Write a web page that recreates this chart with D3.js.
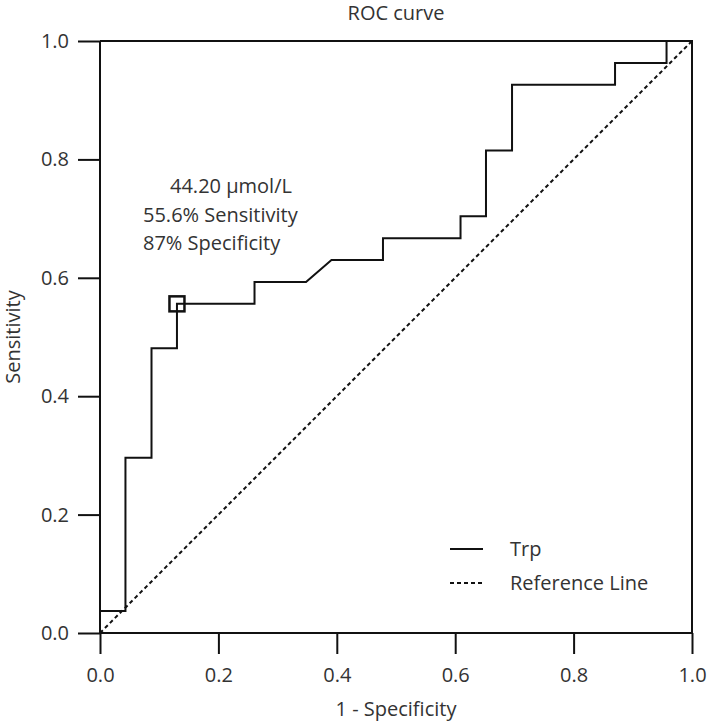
<!DOCTYPE html>
<html>
<head>
<meta charset="utf-8">
<script src="https://cdn.jsdelivr.net/npm/d3@7"></script>
<style>
  html, body { margin: 0; padding: 0; background: #fff; }
  svg text { font-family: "Open Sans", "Noto Sans", sans-serif; fill: #333; }
</style>
</head>
<body>
<svg id="chart" width="709" height="721"></svg>
<script>
// ---- data ----
const title = "ROC curve";
const xLabel = "1 - Specificity";
const yLabel = "Sensitivity";
const tickValues = [0.0, 0.2, 0.4, 0.6, 0.8, 1.0];
// Trp ROC curve points (1 - specificity, sensitivity)
const trpFPR = [0, 0, 0.043, 0.043, 0.087, 0.087, 0.130, 0.130, 0.261, 0.261, 0.348, 0.391, 0.478, 0.478, 0.609, 0.609, 0.652, 0.652, 0.696, 0.696, 0.870, 0.870, 0.957, 0.957, 1.0];
const trpTPR = [0, 0.037, 0.037, 0.296, 0.296, 0.481, 0.481, 0.556, 0.556, 0.593, 0.593, 0.630, 0.630, 0.667, 0.667, 0.704, 0.704, 0.815, 0.815, 0.926, 0.926, 0.963, 0.963, 1.0, 1.0];
const refFPR = [0, 1];
const refTPR = [0, 1];
const cutoff = { fpr: 0.130, tpr: 0.556 };
const annotation = ["44.20 μmol/L", "55.6% Sensitivity", "87% Specificity"];
const legendItems = ["Trp", "Reference Line"];

// ---- layout ----
const svg = d3.select("#chart");
const m = { left: 100, top: 41, w: 592, h: 592 };
const x = d3.scaleLinear().domain([0, 1]).range([m.left, m.left + m.w]);
const y = d3.scaleLinear().domain([0, 1]).range([m.top + m.h, m.top]);
const FS = 20;

// frame (top and right)
svg.append("path")
  .attr("d", `M${x(0)},${y(1)}H${x(1)}V${y(0)}`)
  .attr("fill", "none").attr("stroke", "#111").attr("stroke-width", 2);

// axes
const fmt = d3.format(".1f");
const xAxis = svg.append("g").attr("transform", `translate(0,${y(0)})`)
  .call(d3.axisBottom(x).tickValues(tickValues).tickFormat(fmt).tickSize(21).tickPadding(14));
const yAxis = svg.append("g").attr("transform", `translate(${x(0)},0)`)
  .call(d3.axisLeft(y).tickValues(tickValues).tickFormat(fmt).tickSize(22).tickPadding(9));
[xAxis, yAxis].forEach(g => {
  g.select(".domain").attr("stroke", "#111").attr("stroke-width", 2);
  g.selectAll(".tick line").attr("stroke", "#111").attr("stroke-width", 2);
  g.selectAll(".tick text").attr("font-size", FS).attr("font-family", "Open Sans, Noto Sans, sans-serif").attr("fill", "#333");
});
xAxis.select(".domain").attr("d", `M${x(0)},0H${x(1)}`);
yAxis.select(".domain").attr("d", `M0,${y(0)}V${y(1)}`);

// reference line
const line = d3.line().x(d => x(d[0])).y(d => y(d[1]));
svg.append("path")
  .attr("d", line(d3.zip(refFPR, refTPR)))
  .attr("fill", "none").attr("stroke", "#111").attr("stroke-width", 2)
  .attr("stroke-dasharray", "4,3");

// ROC curve
svg.append("path")
  .attr("d", line(d3.zip(trpFPR, trpTPR)))
  .attr("fill", "none").attr("stroke", "#111").attr("stroke-width", 2)
  .attr("stroke-linejoin", "miter");

// cutoff marker
const sq = 15;
svg.append("rect")
  .attr("x", x(cutoff.fpr) - sq / 2).attr("y", y(cutoff.tpr) - sq / 2)
  .attr("width", sq).attr("height", sq)
  .attr("fill", "none").attr("stroke", "#111").attr("stroke-width", 2.5);

// annotation
const annX = [170, 143, 143];
annotation.forEach((t, i) => {
  svg.append("text").attr("x", annX[i]).attr("y", 193 + i * 28.5)
    .attr("font-size", FS).text(t);
});

// title and axis labels
svg.append("text").attr("x", x(0.5)).attr("y", 20).attr("text-anchor", "middle")
  .attr("font-size", FS).text(title);
svg.append("text").attr("x", x(0.5)).attr("y", 716).attr("text-anchor", "middle")
  .attr("font-size", FS).text(xLabel);
svg.append("text").attr("transform", `translate(20,${y(0.5)}) rotate(-90)`)
  .attr("text-anchor", "middle").attr("font-size", FS).text(yLabel);

// legend
legendItems.forEach((t, i) => {
  const ly = 549 + i * 34;
  svg.append("line").attr("x1", 450).attr("x2", 483).attr("y1", ly).attr("y2", ly)
    .attr("stroke", "#111").attr("stroke-width", 2)
    .attr("stroke-dasharray", i === 1 ? "4,3" : null);
  svg.append("text").attr("x", 510).attr("y", ly + 7).attr("font-size", FS).text(t);
});
</script>
</body>
</html>
